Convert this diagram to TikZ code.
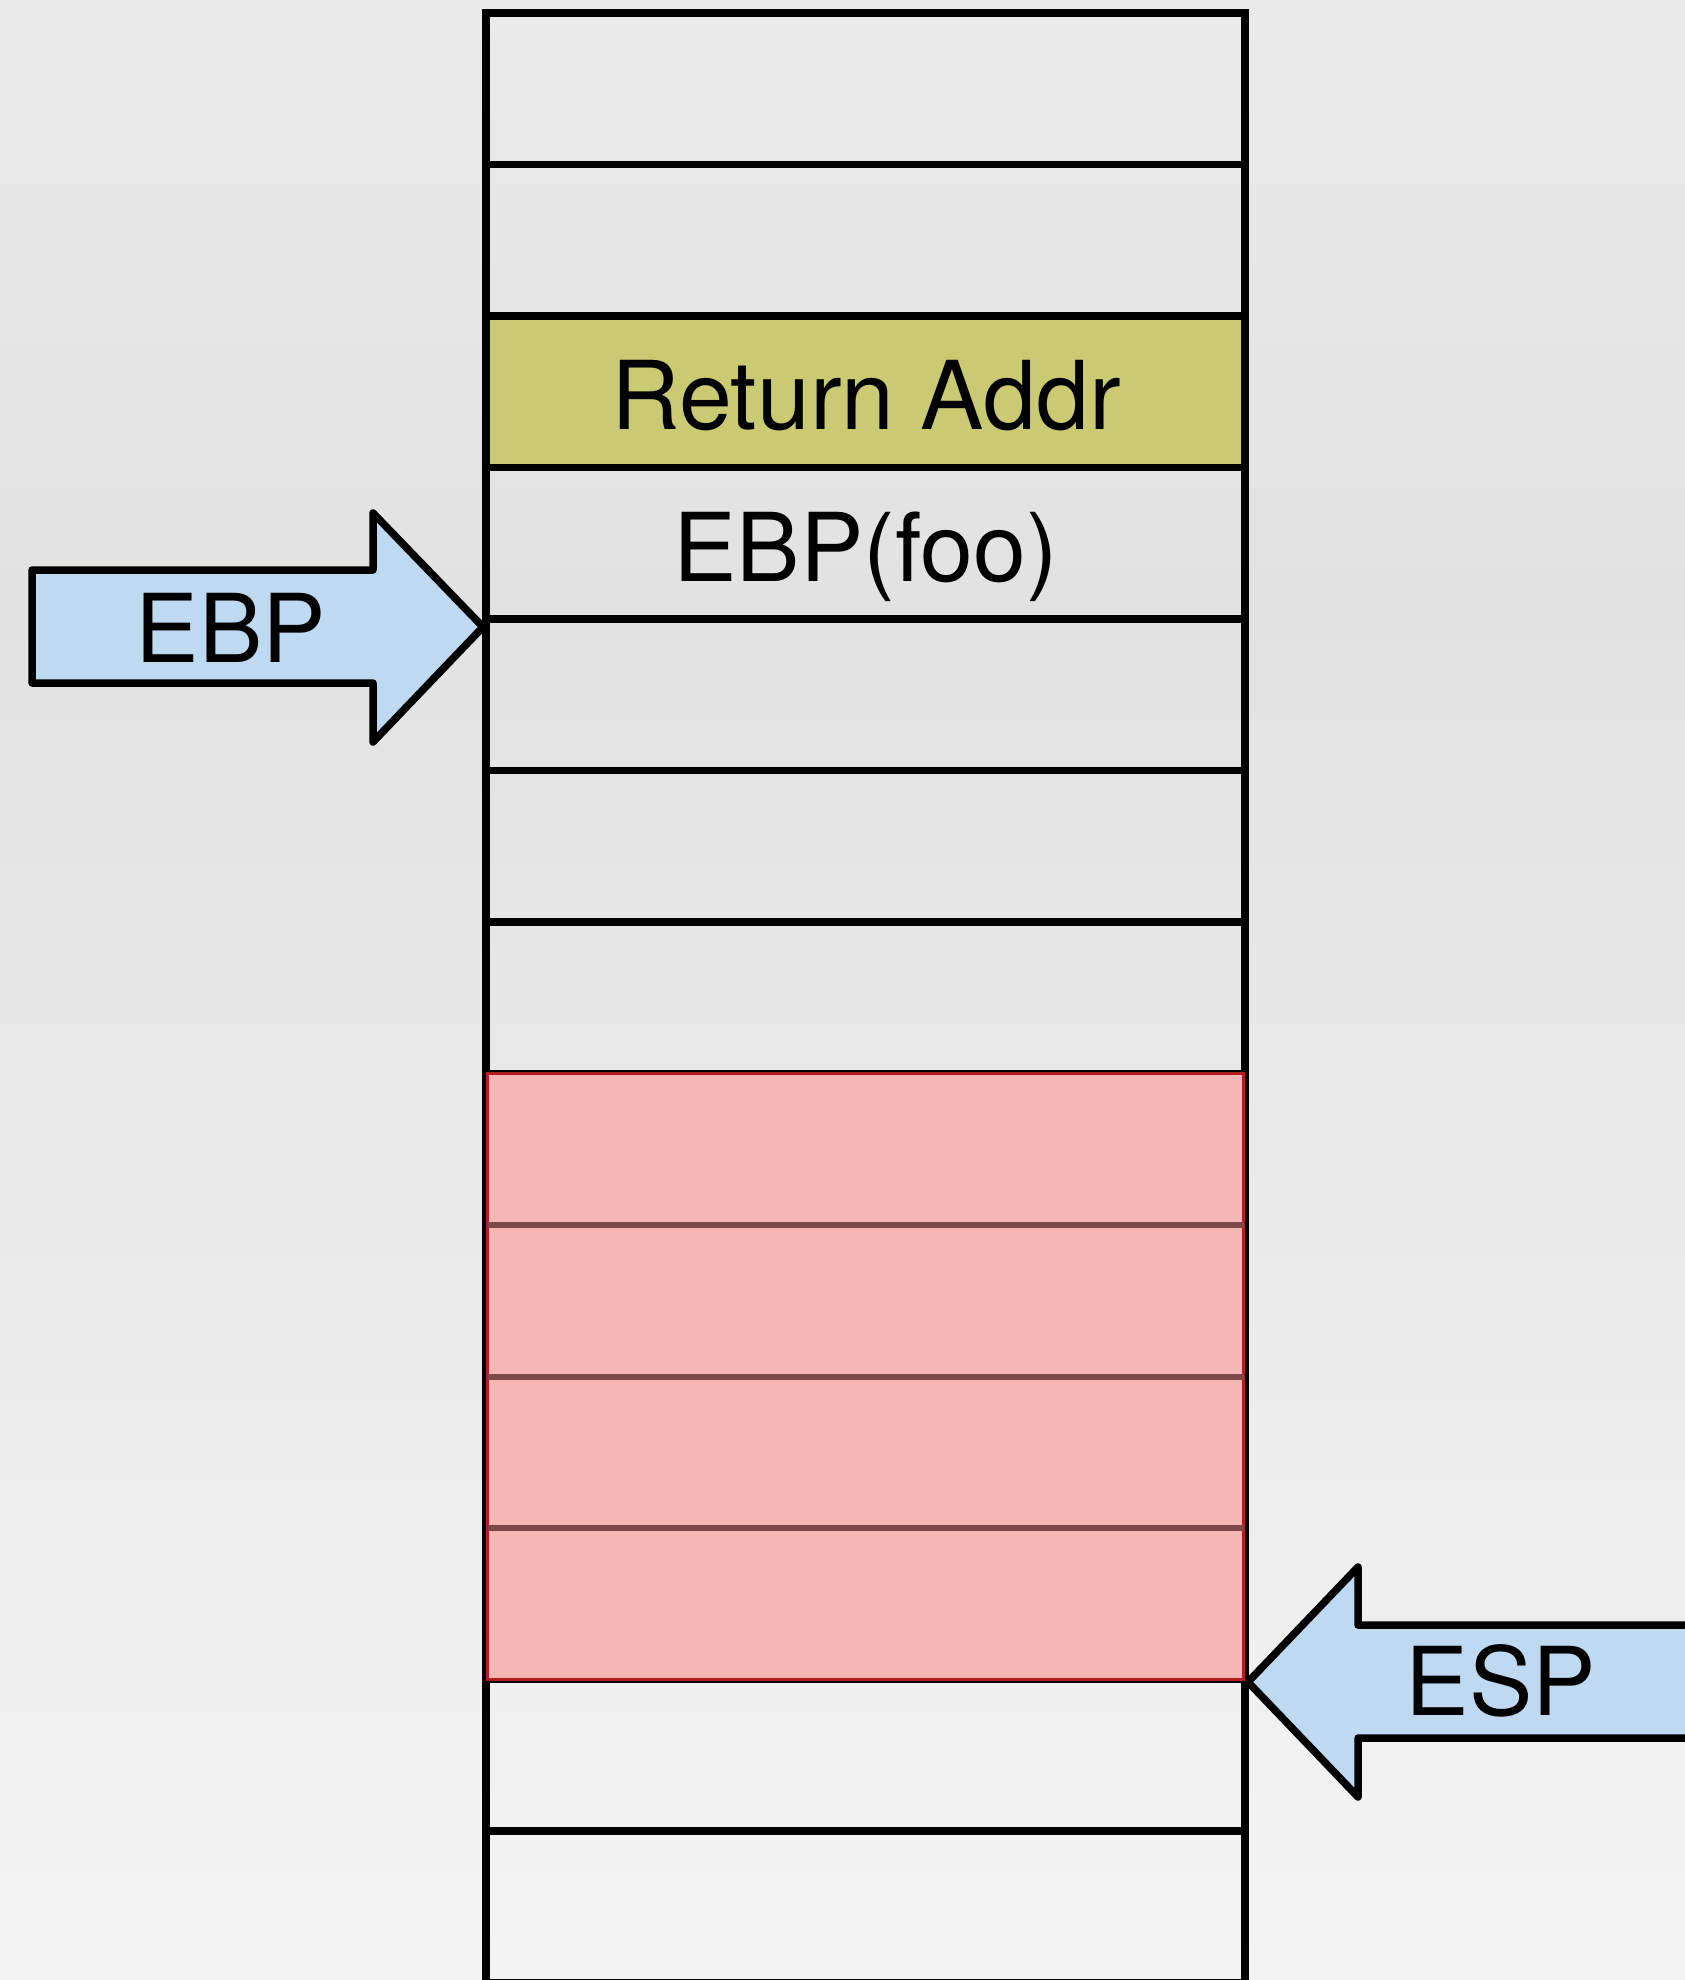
\documentclass[tikz,border=0pt]{standalone}
\usepackage{fontspec}
\setmainfont{TeX Gyre Heros}
\definecolor{bgtop}{HTML}{EAEAEA}
\definecolor{bgmid}{HTML}{E2E2E2}
\definecolor{bgbot}{HTML}{F4F4F4}
\definecolor{olive}{HTML}{CACA72}
\definecolor{arrowblue}{HTML}{BFD9F1}
\definecolor{pinkfill}{HTML}{F5B6B6}
\definecolor{redline}{HTML}{B01E1E}
\definecolor{innerline}{HTML}{7D4848}
\begin{document}
\begin{tikzpicture}[x=1pt,y=-1pt,
  cell/.style={draw=black, line width=7.5pt, minimum width=759pt, minimum height=151.5pt, inner sep=0pt, outer sep=0pt},
  redcell/.style={fill=pinkfill, minimum width=756pt, minimum height=151.5pt, inner sep=0pt, outer sep=0pt},
  bigtext/.style={font=\fontsize{95}{110}\selectfont, inner sep=0pt, anchor=base},
  blockarrow/.style={draw=black, fill=arrowblue, line width=7.5pt, line join=round}]
\clip (0,0) rectangle (1685,1980);
% background
\shade[top color=bgtop, bottom color=bgmid] (0,0) rectangle (1685,601);
\shade[top color=bgmid, bottom color=bgbot] (0,600) rectangle (1685,1980);
% stack cells
\node[cell, fill=olive] (c2) at (865.5, 391.75) {};
\foreach \k in {0,1,3,4,5,6,7,8,9,10,11,12}
  \node[cell] (c\k) at (865.5, 88.75+151.5*\k) {};
\draw[line width=7.5pt] (c2.north west) -- (c2.north east);
\draw[line width=7.5pt] (c2.south west) -- (c2.south east);
% red region
\foreach \k in {7,8,9,10}
  \node[redcell] (r\k) at (c\k.center) {};
\draw[redline, line width=3.5pt] (r7.north west) rectangle (r10.south east);
\draw[innerline, line width=6pt] (r7.south west) -- (r7.south east);
\draw[innerline, line width=6pt] (r8.south west) -- (r8.south east);
\draw[innerline, line width=6pt] (r9.south west) -- (r9.south east);
% texts
\node[bigtext] (ret) at (866, 429.5) {Return Addr};
\node[bigtext] (ebpfoo) at (865.5, 581) {EBP(foo)};
% EBP arrow
\draw[blockarrow] (32,570) -- (373,570) -- (373,513) -- (483,627) -- (373,742) -- (373,683) -- (32,683) -- cycle;
\node[bigtext] (ebp) at (231, 662) {EBP};
% ESP arrow
\draw[blockarrow] (1710,1625) -- (1358,1625) -- (1358,1567) -- (1248,1682) -- (1358,1797) -- (1358,1738) -- (1710,1738) -- cycle;
\node[bigtext] (esp) at (1501, 1715) {ESP};
\end{tikzpicture}
\end{document}
